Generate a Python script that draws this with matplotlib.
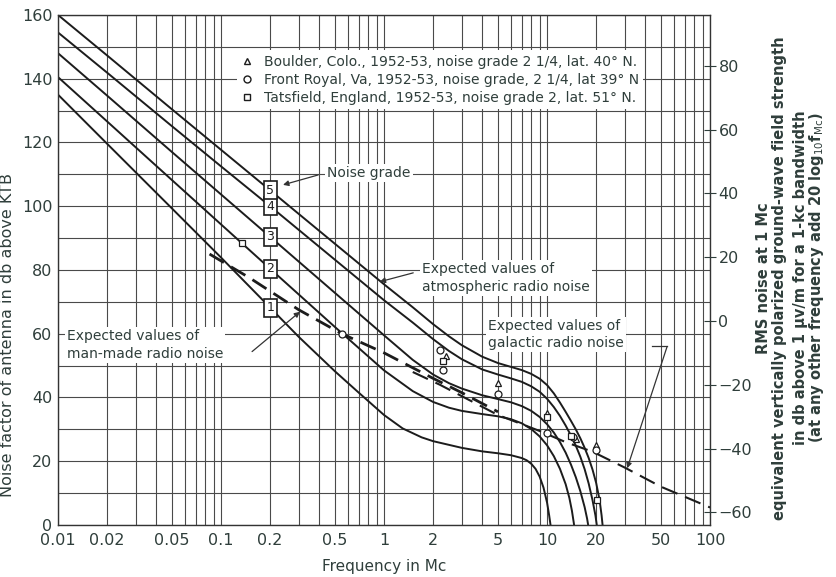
import matplotlib
matplotlib.use('Agg')
import matplotlib.pyplot as plt
from matplotlib.lines import Line2D

plt.rcParams['font.family'] = ['DejaVu Sans']

# atmospheric noise, noise grades 1..5 (freq in Mc, noise factor in db above KTB)
grade1_f = [0.01, 0.02, 0.05, 0.1, 0.2, 0.3, 0.5, 0.7, 1, 1.3, 1.7, 2, 3, 4, 5, 6, 7, 7.5, 8, 8.5, 9, 9.5, 10, 10.3, 10.6, 10.8]
grade1_v = [135, 119.6, 99.3, 83.9, 68.2, 59, 48.2, 41.5, 34.5, 30.3, 27.5, 26.3, 24.2, 23.1, 22.5, 21.9, 21, 20.3, 19.2, 17.6, 15.2, 11.8, 7, 3, -1.5, -4]
grade2_f = [0.01, 0.02, 0.05, 0.1, 0.2, 0.5, 1, 1.5, 2, 2.5, 3, 4, 5, 6, 7, 8, 9, 10, 11, 12, 13, 13.7, 14.2, 14.6, 15]
grade2_v = [140.5, 126.6, 108.2, 94.3, 80.4, 62.1, 48.5, 42, 38.6, 36.8, 35.8, 34.8, 34.1, 33.2, 31.9, 30.1, 27.8, 25, 21.6, 17.6, 12.8, 8.5, 4.5, 0.5, -4]
grade3_f = [0.01, 0.02, 0.05, 0.1, 0.2, 0.5, 1, 1.5, 2, 2.5, 3, 4, 5, 6, 7, 8, 9, 10, 11, 12, 13, 14, 15, 16, 17, 17.6, 18, 18.4]
grade3_v = [148, 134.7, 117, 103.7, 90.4, 72.8, 59.5, 51.8, 47.2, 44.5, 42.8, 40.7, 39.5, 38.5, 37.3, 35.8, 33.9, 31.6, 29, 26, 22.7, 19, 15, 10.6, 5.6, 2, -1, -4]
grade4_f = [0.01, 0.02, 0.05, 0.1, 0.2, 0.5, 1, 1.5, 2, 2.5, 3, 4, 5, 6, 7, 8, 9, 10, 11, 12, 13, 14, 15, 16, 17, 18, 19, 19.8, 20.3, 20.6]
grade4_v = [154.5, 141.9, 125.1, 112.5, 100, 83.2, 70.5, 63.5, 58.3, 54.6, 52, 48.8, 47.2, 46, 44.9, 43.5, 41.8, 39.6, 37, 34.2, 31.2, 28.1, 24.9, 21.4, 17.5, 13, 7.8, 3, -1, -4]
grade5_f = [0.01, 0.02, 0.05, 0.1, 0.2, 0.5, 1, 1.5, 2, 2.5, 3, 4, 5, 6, 7, 8, 9, 10, 11, 12, 13, 14, 15, 16, 17, 18, 19, 20, 21, 21.6, 22, 22.4]
grade5_v = [160, 147.3, 130.4, 117.7, 105, 88.2, 75.5, 68.3, 63, 59.2, 56.4, 52.8, 50.8, 49.6, 48.6, 47.4, 45.9, 43.9, 41.3, 38.4, 35.5, 32.7, 30, 27.2, 24.2, 21, 17.4, 13.2, 7.8, 3, -1, -5]

# noise grade boxes at 0.2 Mc
box_f = 0.2
box_v = [68.2, 80.4, 90.4, 100, 105]

# man-made and galactic noise
manmade_f = [0.085, 0.15, 0.3, 0.55, 1, 2, 3, 5]
manmade_v = [85, 77.5, 67.5, 60, 54, 46, 41.5, 35.5]
galactic_f = [1.5, 2.2, 5, 9, 13, 19, 30, 50, 100]
galactic_v = [48, 44, 34.5, 29.5, 26, 23, 18, 12, 5.5]

# measured points
boulder_f = [2.4, 5, 10, 15, 20]
boulder_v = [53, 44.5, 35, 27, 25]
frontroyal_f = [0.55, 2.2, 2.3, 5, 10, 14.5, 20]
frontroyal_v = [60, 55, 48.5, 41, 29, 27.5, 23.5]
tatsfield_f = [0.135, 2.3, 10, 14, 20.3]
tatsfield_v = [88.5, 51.5, 34, 28, 8]

xtick_vals = [0.01, 0.02, 0.05, 0.1, 0.2, 0.5, 1, 2, 5, 10, 20, 50, 100]
xtick_labels = ['0.01', '0.02', '0.05', '0.1', '0.2', '0.5', '1', '2', '5', '10', '20', '50', '100']

ink = '#1c1c1c'
txt = '#2f3e3b'

fig = plt.figure(figsize=(8.36, 5.77), dpi=100)
ax = fig.add_axes([0.0694, 0.0901, 0.780, 0.884])
ax.set_xscale('log')
ax.set_xlim(0.01, 100)
ax.set_ylim(0, 160)
ax.set_yticks(range(0, 161, 20))
ax.set_yticks(range(10, 160, 20), minor=True)
ax.set_xticks(xtick_vals)
ax.set_xticklabels(xtick_labels)
ax.xaxis.set_minor_formatter(matplotlib.ticker.NullFormatter())
ax.grid(which='both', color='#4a4a4a', lw=0.8)
ax.set_axisbelow(True)
ax.tick_params(axis='both', which='both', length=0, labelsize=11.5, colors=txt)
ax.tick_params(axis='x', pad=6)
ax.tick_params(axis='y', pad=4)
for s in ax.spines.values():
    s.set_color('#333333')
    s.set_linewidth(1.0)

for f, v in [(grade1_f, grade1_v), (grade2_f, grade2_v), (grade3_f, grade3_v),
             (grade4_f, grade4_v), (grade5_f, grade5_v)]:
    ax.plot(f, v, color=ink, lw=1.4)

ax.plot(manmade_f, manmade_v, color=ink, lw=2.0, dashes=(6, 3))
ax.plot(galactic_f, galactic_v, color=ink, lw=1.5, dashes=(8, 4))

ax.plot(boulder_f, boulder_v, '^', ms=5, mfc='white', mec=ink, mew=0.9, ls='none')
ax.plot(frontroyal_f, frontroyal_v, 'o', ms=5, mfc='white', mec=ink, mew=0.9, ls='none')
ax.plot(tatsfield_f, tatsfield_v, 's', ms=5, mfc='white', mec=ink, mew=0.9, ls='none')

for i, v in enumerate(box_v):
    ax.text(box_f, v, str(i + 1), ha='center', va='center', fontsize=9, color=ink, zorder=5,
            bbox=dict(boxstyle='square,pad=0.2', fc='white', ec=ink, lw=1.2))

handles = [
    Line2D([], [], marker='^', ls='none', ms=5, mfc='white', mec=ink),
    Line2D([], [], marker='o', ls='none', ms=5, mfc='white', mec=ink),
    Line2D([], [], marker='s', ls='none', ms=5, mfc='white', mec=ink),
]
labels = [
    'Boulder, Colo., 1952-53, noise grade 2 1/4, lat. 40° N.',
    'Front Royal, Va, 1952-53, noise grade, 2 1/4, lat 39° N',
    'Tatsfield, England, 1952-53, noise grade 2, lat. 51° N.',
]
leg = ax.legend(handles, labels, loc='upper left', bbox_to_anchor=(0.264, 0.944),
                frameon=True, fancybox=False, framealpha=1, edgecolor='none',
                fontsize=10, handlelength=0.8, handletextpad=0.8, labelspacing=0.3,
                borderpad=0.3, labelcolor=txt)

bb = dict(fc='white', ec='none', pad=1.5)
ax.text(0.558, 0.484, 'Expected values of\natmospheric radio noise', transform=ax.transAxes,
        ha='left', va='center', fontsize=10, color=txt, linespacing=1.3, bbox=bb)
ax.text(0.0138, 0.353, 'Expected values of\nman-made radio noise', transform=ax.transAxes,
        ha='left', va='center', fontsize=10, color=txt, linespacing=1.3, bbox=bb)
ax.text(0.66, 0.373, 'Expected values of\ngalactic radio noise', transform=ax.transAxes,
        ha='left', va='center', fontsize=10, color=txt, linespacing=1.3, bbox=bb)
ax.text(0.4126, 0.690, 'Noise grade', transform=ax.transAxes,
        ha='left', va='center', fontsize=10, color=txt, bbox=bb)

arrow = dict(arrowstyle='-|>', color='#333333', lw=0.9, mutation_scale=8, shrinkA=0, shrinkB=0)
ax.annotate('', xy=(0.24, 106.7), xytext=(0.394, 109.8), arrowprops=arrow)
ax.annotate('', xy=(0.94, 76.3), xytext=(1.51, 79.1), arrowprops=arrow)
ax.annotate('', xy=(0.305, 66.9), xytext=(0.155, 54.4), arrowprops=arrow)
ax.annotate('', xy=(31, 17.8), xytext=(54.5, 56), arrowprops=arrow)
ax.plot([44, 54.5], [56, 56], color='#333333', lw=0.9)

ax.set_xlabel('Frequency in Mc', fontsize=11, color=txt, labelpad=8)
ax.set_ylabel('Noise factor of antenna in db above KTB', fontsize=11.5, color=txt)
ax.yaxis.set_label_coords(-0.066, 0.373)

ax2 = ax.twinx()
ax2.set_ylim(-64, 96)
ax2.set_yticks(range(-60, 81, 20))
ax2.set_yticklabels([str(t).replace('-', '\u2212') for t in range(-60, 81, 20)])
ax2.tick_params(axis='y', direction='inout', length=8, pad=2, labelsize=11.5, colors=txt)
for s in ax2.spines.values():
    s.set_visible(False)

right_lines = [
    (0.913, 'RMS noise at 1 Mc'),
    (0.933, 'equivalent vertically polarized ground-wave field strength'),
    (0.957, 'in db above 1 µv/m for a 1-kc bandwidth'),
    (0.977, '(at any other frequency add 20 log$_{10}$f$_{\\rm Mc}$)'),
]
for x, s in right_lines:
    fig.text(x, 0.518, s, rotation=90, ha='center', va='center', fontsize=10.5,
             color=txt, weight='bold')

fig.savefig('out.png', dpi=100)
